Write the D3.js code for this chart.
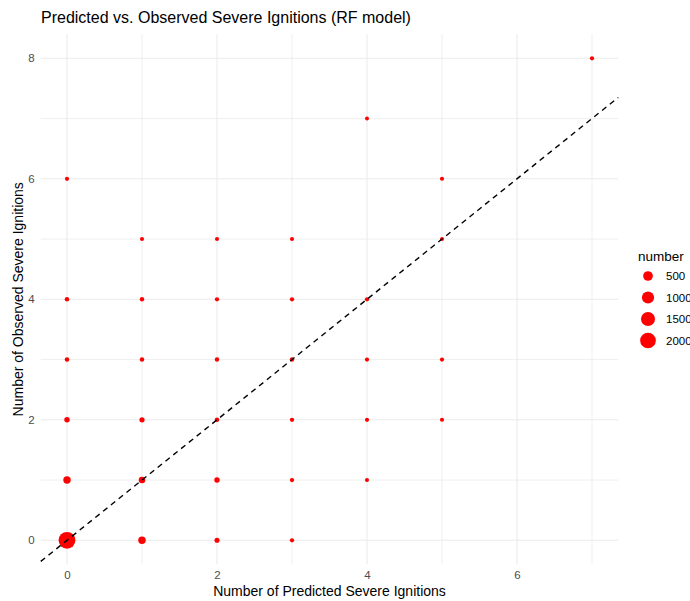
<!DOCTYPE html>
<html>
<head>
<meta charset="utf-8">
<script src="https://cdn.jsdelivr.net/npm/d3@7"></script>
<style>
  html, body { margin: 0; padding: 0; background: #ffffff; }
  svg { display: block; font-family: "Liberation Sans", Arial, sans-serif; }
</style>
</head>
<body>
<svg id="chart" width="690" height="601"></svg>
<script>
// Predicted vs. observed counts of severe ignitions (RF model)
const predicted = [0, 0, 0, 0, 0, 0, 1, 1, 1, 1, 1, 1, 2, 2, 2, 2, 2, 2, 3, 3, 3, 3, 3, 3, 4, 4, 4, 4, 4, 5, 5, 5, 5, 7];
const observed  = [0, 1, 2, 3, 4, 6, 0, 1, 2, 3, 4, 5, 0, 1, 2, 3, 4, 5, 0, 1, 2, 3, 4, 5, 1, 2, 3, 4, 7, 2, 3, 5, 6, 8];
const number    = [2400, 190, 40, 10, 8, 3, 200, 110, 30, 8, 6, 2, 25, 40, 10, 6, 4, 2, 4, 5, 4, 8, 5, 2, 2, 3, 3, 4, 1, 2, 3, 1, 2, 3];

const xTicks = [0, 2, 4, 6];
const yTicks = [0, 2, 4, 6, 8];
const xMinor = [1, 3, 5, 7];
const yMinor = [1, 3, 5, 7];
const legendBreaks = [500, 1000, 1500, 2000];

const chartTitle = "Predicted vs. Observed Severe Ignitions (RF model)";
const xTitle = "Number of Predicted Severe Ignitions";
const yTitle = "Number of Observed Severe Ignitions";
const legendTitle = "number";

const data = predicted.map((p, i) => ({ p, o: observed[i], n: number[i] }));

const svg = d3.select("#chart");
const panel = { left: 40.75, right: 618.25, top: 34.2, bottom: 564.4 };

// 5% expansion on each side, like the default continuous scale
const x = d3.scaleLinear().domain([-0.35, 7.35]).range([panel.left, panel.right]);
const y = d3.scaleLinear().domain([-0.4, 8.4]).range([panel.bottom, panel.top]);
const r = d3.scaleSqrt().domain([1, 2400]).range([2.0, 8.4]);

const grid = svg.append("g");
// minor grid
grid.selectAll(".vminor").data(xMinor).join("line")
  .attr("x1", d => x(d)).attr("x2", d => x(d))
  .attr("y1", panel.top).attr("y2", panel.bottom)
  .attr("stroke", "#ebebeb").attr("stroke-width", 0.8);
grid.selectAll(".hminor").data(yMinor).join("line")
  .attr("y1", d => y(d)).attr("y2", d => y(d))
  .attr("x1", panel.left).attr("x2", panel.right)
  .attr("stroke", "#ebebeb").attr("stroke-width", 0.8);
// major grid
grid.selectAll(".vmajor").data(xTicks).join("line")
  .attr("x1", d => x(d)).attr("x2", d => x(d))
  .attr("y1", panel.top).attr("y2", panel.bottom)
  .attr("stroke", "#ebebeb").attr("stroke-width", 1.1);
grid.selectAll(".hmajor").data(yTicks).join("line")
  .attr("y1", d => y(d)).attr("y2", d => y(d))
  .attr("x1", panel.left).attr("x2", panel.right)
  .attr("stroke", "#ebebeb").attr("stroke-width", 1.1);

// axes (labels only)
const xAxis = svg.append("g")
  .attr("transform", `translate(0,${panel.bottom})`)
  .call(d3.axisBottom(x).tickValues(xTicks).tickSize(0).tickPadding(6).tickFormat(d3.format("d")));
xAxis.select(".domain").remove();
xAxis.selectAll("text").attr("fill", "#4d4d4d").attr("font-size", 11.5)
  .attr("font-family", "Liberation Sans, Arial, sans-serif");

const yAxis = svg.append("g")
  .attr("transform", `translate(${panel.left},0)`)
  .call(d3.axisLeft(y).tickValues(yTicks).tickSize(0).tickPadding(6).tickFormat(d3.format("d")));
yAxis.select(".domain").remove();
yAxis.selectAll("text").attr("fill", "#4d4d4d").attr("font-size", 11.5)
  .attr("font-family", "Liberation Sans, Arial, sans-serif");

// points
svg.append("g").selectAll("circle").data(data).join("circle")
  .attr("cx", d => x(d.p)).attr("cy", d => y(d.o))
  .attr("r", d => r(d.n))
  .attr("fill", "#ff0000");

// y = x reference line across the panel
const lo = Math.max(x.domain()[0], y.domain()[0]);
const hi = Math.min(x.domain()[1], y.domain()[1]);
svg.append("line")
  .attr("x1", x(lo)).attr("y1", y(lo))
  .attr("x2", x(hi)).attr("y2", y(hi))
  .attr("stroke", "#000").attr("stroke-width", 1.4)
  .attr("stroke-dasharray", "5.5,4.5");

// titles
svg.append("text").attr("x", 41).attr("y", 23)
  .attr("font-size", 16).attr("fill", "#000").text(chartTitle);
svg.append("text").attr("x", (panel.left + panel.right) / 2).attr("y", 596)
  .attr("text-anchor", "middle").attr("font-size", 14).attr("fill", "#000").text(xTitle);
svg.append("text")
  .attr("transform", `translate(23,${(panel.top + panel.bottom) / 2}) rotate(-90)`)
  .attr("text-anchor", "middle").attr("font-size", 14).attr("fill", "#000").text(yTitle);

// size legend
const leg = svg.append("g");
leg.append("text").attr("x", 638).attr("y", 261)
  .attr("font-size", 13.5).attr("fill", "#000").text(legendTitle);
const rowY = i => 276 + i * 21.5;
leg.selectAll("circle").data(legendBreaks).join("circle")
  .attr("cx", 648).attr("cy", (d, i) => rowY(i))
  .attr("r", d => r(d)).attr("fill", "#ff0000");
leg.selectAll(".lab").data(legendBreaks).join("text")
  .attr("x", 666).attr("y", (d, i) => rowY(i) + 4)
  .attr("font-size", 11.5).attr("fill", "#000").text(d => d);
</script>
</body>
</html>
